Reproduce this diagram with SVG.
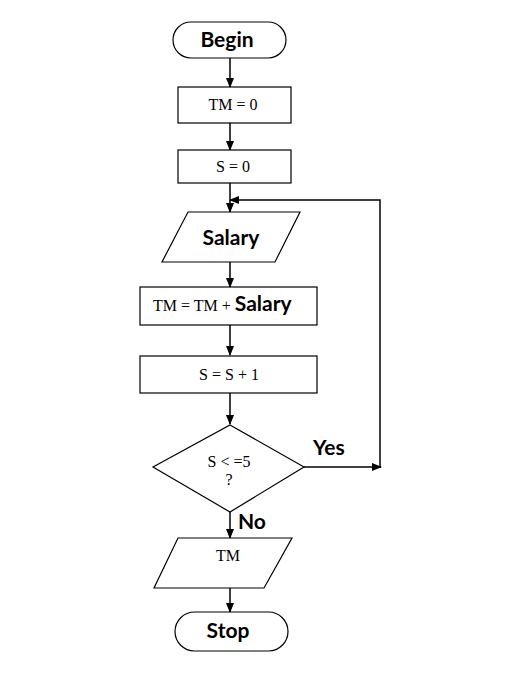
<svg xmlns="http://www.w3.org/2000/svg" width="513" height="684" viewBox="0 0 513 684">
<defs>
<marker id="ah" markerWidth="10" markerHeight="8" refX="9" refY="4" orient="auto" markerUnits="userSpaceOnUse">
<path d="M0,0 L10,4 L0,8 Z" fill="#000"/>
</marker>
<style>
.s{fill:#fff;stroke:#000;stroke-width:1.2}
.c{fill:none;stroke:#000;stroke-width:1.5}
.b{font-family:Lato,"Open Sans",sans-serif;font-weight:bold;font-size:21px;fill:#000}
.t{font-family:"Liberation Serif",serif;font-size:16px;fill:#000}
</style>
</defs>
<rect width="513" height="684" fill="#fff"/>
<g id="connectors">
<line class="c" x1="230" y1="58" x2="230" y2="87" marker-end="url(#ah)"/>
<line class="c" x1="230" y1="123" x2="230" y2="150" marker-end="url(#ah)"/>
<line class="c" x1="230" y1="183" x2="230" y2="212" marker-end="url(#ah)"/>
<line class="c" x1="230" y1="262" x2="230" y2="287" marker-end="url(#ah)"/>
<line class="c" x1="230" y1="325" x2="230" y2="355" marker-end="url(#ah)"/>
<line class="c" x1="230" y1="393" x2="230" y2="424" marker-end="url(#ah)"/>
<line class="c" x1="304" y1="467" x2="381" y2="467" marker-end="url(#ah)"/>
<polyline class="c" points="380,467 380,200 230,200" marker-end="url(#ah)"/>
<line class="c" x1="230" y1="512" x2="230" y2="538" marker-end="url(#ah)"/>
<line class="c" x1="230" y1="588" x2="230" y2="612" marker-end="url(#ah)"/>
<text class="b" x="313" y="455">Yes</text>
<text class="b" x="238" y="529">No</text>
</g>
<g id="begin">
<rect class="s" x="173" y="22" width="113" height="36" rx="18"/>
<text class="b" x="227" y="47" text-anchor="middle">Begin</text>
</g>
<g id="tm0">
<rect class="s" x="178" y="87" width="113" height="36"/>
<text class="t" x="233" y="110" text-anchor="middle">TM = 0</text>
</g>
<g id="s0">
<rect class="s" x="178" y="150" width="113" height="33"/>
<text class="t" x="233" y="172" text-anchor="middle">S = 0</text>
</g>
<g id="salary">
<polygon class="s" points="188,212 300,212 275,262 162,262"/>
<text class="b" x="231" y="245" text-anchor="middle">Salary</text>
</g>
<g id="tmsum">
<rect class="s" x="140" y="287" width="177" height="38"/>
<text x="153" y="311"><tspan class="t">TM = TM + </tspan><tspan class="b">Salary</tspan></text>
</g>
<g id="sinc">
<rect class="s" x="140" y="356" width="177" height="37"/>
<text class="t" x="229" y="380" text-anchor="middle">S = S + 1</text>
</g>
<g id="decision">
<polygon class="s" points="230,425 304,467 230,512 153,467"/>
<text class="t" x="229" y="467" text-anchor="middle">S &lt; =5</text>
<text class="t" x="229" y="485" text-anchor="middle">?</text>
</g>
<g id="output">
<polygon class="s" points="178,538 292,538 264,588 154,588"/>
<text class="t" x="228" y="561" text-anchor="middle">TM</text>
</g>
<g id="stop">
<rect class="s" x="175" y="612" width="113" height="39" rx="19.5"/>
<text class="b" x="228" y="638" text-anchor="middle">Stop</text>
</g>
</svg>
